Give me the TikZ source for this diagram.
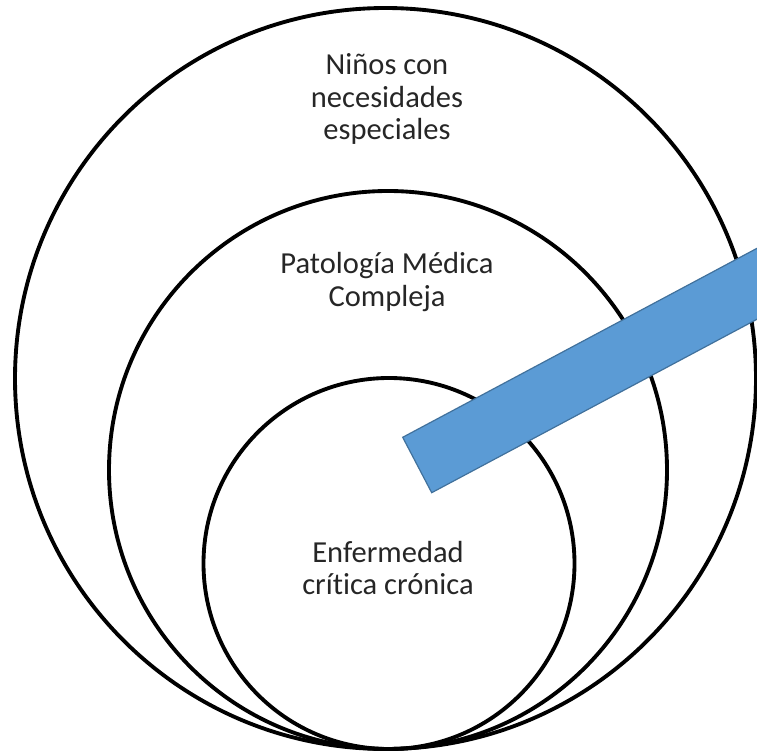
\documentclass[tikz,border=0pt]{standalone}
\usepackage{fontspec}
\setmainfont{Carlito}[Ligatures=NoCommon]
\definecolor{barblue}{HTML}{5B9BD5}
\definecolor{baredge}{HTML}{41719C}
\definecolor{txtgray}{HTML}{262626}

\begin{document}
\begin{tikzpicture}[x=0.75pt, y=-0.75pt,
	every node/.style={font=\fontsize{22.9}{24.4}\selectfont, text=txtgray, align=center},
	ring/.style={line width=2.9pt, black}]
	\useasboundingbox (0,0) rectangle (757,752);
	% three circles touching at the bottom
	\draw[ring] (385.5,378.5) circle (370.5);
	\draw[ring] (388,470) circle (279);
	\draw[ring] (389,563.5) circle (185.5);
	\node (ninos) at (387,99) {Niños con\\necesidades\\especiales};
	\node (patologia) at (387,282) {Patología Médica\\Compleja};
	\node (enfermedad) at (388,568) {Enfermedad\\crítica crónica};
	% the bar, cut off at the right border
	\begin{scope}
		\clip (0,0) rectangle (757,752);
		\draw[baredge, fill=barblue, line width=0.9pt] (402.7,437.3) -- (431.7,492.7) -- (855,267) -- (826,211.5) -- cycle;
	\end{scope}
\end{tikzpicture}
\end{document}
